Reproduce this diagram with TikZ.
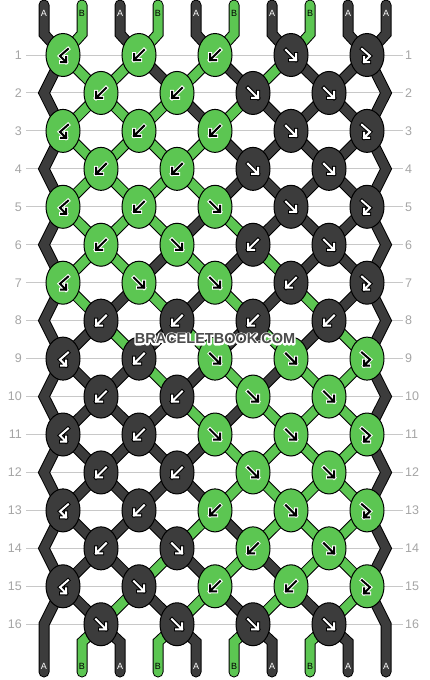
\documentclass[tikz,border=0pt]{standalone}
\usepackage{fontspec}
\setmainfont{Liberation Sans}
\usetikzlibrary{shapes.geometric,backgrounds}

\definecolor{thrG}{RGB}{92,198,82}
\definecolor{thrD}{RGB}{60,60,60}
\definecolor{rowgray}{RGB}{165,165,165}
\definecolor{linegray}{RGB}{200,200,200}
\definecolor{wmgray}{RGB}{75,75,75}

\tikzset{
  knot/.style={ellipse, draw=black, line width=1pt, minimum width=34pt, minimum height=43pt, inner sep=0pt},
  kG/.style={fill=thrG},
  kD/.style={fill=thrD},
  strA/.style={draw=black, line width=1pt, double=thrD, double distance=9pt, line join=miter, line cap=round},
  strB/.style={draw=black, line width=1pt, double=thrG, double distance=9pt, line join=miter, line cap=round},
  aoutG/.style={draw=white, line width=4pt, line cap=rect, line join=miter},
  ainG/.style={draw=black, line width=2pt, line cap=rect, line join=miter},
  aoutD/.style={draw=black, line width=4pt, line cap=rect, line join=miter},
  ainD/.style={draw=white, line width=2pt, line cap=rect, line join=miter},
  rowlab/.style={text=rowgray, inner sep=0pt, font=\fontsize{12.5}{14}\selectfont},
  guide/.style={draw=linegray, line width=1pt},
  endlab/.style={inner sep=0pt, font=\fontsize{9}{10}\selectfont},
  labA/.style={text=white},
  labB/.style={text=black},
  wmark/.style={text=wmgray, inner sep=0pt, font=\bfseries\fontsize{14.5}{16}\selectfont},
}

% arrow glyphs in pixel units, y pointing down
\newcommand{\arrf}{(-5,-5) -- (5,5) (5,-1) -- (5,5) -- (-1,5)}
\newcommand{\arrb}{(5,-5) -- (-5,5) (-5,-1) -- (-5,5) -- (1,5)}
\newcommand{\arrfb}{(-5,-6) -- (3,1) -- (-3,7) (-3,2) -- (-3,7) -- (2,7)}
\newcommand{\arrbf}{(5,-6) -- (-3,1) -- (3,7) (3,2) -- (3,7) -- (-2,7)}
\newcommand{\knotarrow}[3]{% knot, colour, type
  \draw[aout#2, shift={(#1)}] \csname arr#3\endcsname;
  \draw[ain#2, shift={(#1)}] \csname arr#3\endcsname;
}
% white stroked outline under the filled text
\newcommand{\halotext}[1]{\rlap{\special{pdf:literal direct 1 Tr 3 w 1 j 1 1 1 RG}#1\special{pdf:literal direct 0 Tr 0.4 w 0 j 0 0 0 RG}}#1}

\begin{document}
\begin{tikzpicture}[x=1pt,y=-1pt]
  \useasboundingbox (0,0) rectangle (430,680);

  % knots, row by row (colour/type)
  \foreach \rw/\row in {
    1/{G/bf,G/b,G/b,D/f,D/fb},
    2/{G/b,G/b,D/f,D/f},
    3/{G/bf,G/b,G/b,D/f,D/fb},
    4/{G/b,G/b,D/f,D/f},
    5/{G/bf,G/b,G/f,D/f,D/fb},
    6/{G/b,G/f,D/b,D/f},
    7/{G/bf,G/f,G/f,D/b,D/fb},
    8/{D/b,D/b,D/b,D/b},
    9/{D/bf,D/b,G/f,G/f,G/fb},
    10/{D/b,D/b,G/f,G/f},
    11/{D/bf,D/b,G/f,G/f,G/fb},
    12/{D/b,D/b,G/f,G/f},
    13/{D/bf,D/b,G/b,G/f,G/fb},
    14/{D/b,D/f,G/b,G/f},
    15/{D/bf,D/f,G/b,G/b,G/fb},
    16/{D/f,D/f,D/f,D/f}} {
    \pgfmathsetmacro\y{55+37.95*(\rw-1)}
    \pgfmathsetmacro\xo{101-38*mod(\rw,2)}
    \foreach \kc/\kt [count=\ki] in \row {
      \node[knot, k\kc] (k\rw-\ki) at ({\xo+76*(\ki-1)},\y) {};
      \knotarrow{k\rw-\ki}{\kc}{\kt}
    }
    \node[rowlab, anchor=east] (rl\rw) at (22,\y) {\rw};
    \node[rowlab, anchor=west] (rr\rw) at (405,\y) {\rw};
    \coordinate (L\rw) at (44,\y);
    \coordinate (R\rw) at (386,\y);
  }

  % string ends
  \foreach \s [count=\p] in {A,B,A,B,A,B,A,B,A,A} {
    \pgfmathsetmacro\xp{44+38*(\p-1)}
    \coordinate (T\p) at (\xp,5);
    \coordinate (TB\p) at (\xp,34);
    \coordinate (BB\p) at (\xp,642);
    \coordinate (B\p) at (\xp,672);
    \node[endlab, lab\s] (tl\p) at (\xp,13) {\s};
    \node[endlab, lab\s] (bl\p) at (\xp,666) {\s};
  }

  % watermark
  \node[wmark] (wm) at (215,339) {\halotext{BRACELETBOOK.COM}};

  \begin{scope}[on background layer]
    \fill[white] (0,0) rectangle (430,680);
    \foreach \rw in {1,...,16}
      \draw[guide] ([xshift=4pt]rl\rw.east) -- ([xshift=-2pt]rr\rw.west);

    % edge strings
    \draw[strA] (T1) -- (TB1) \foreach \rw [evaluate=\rw as \nx using int(\rw+1)] in {1,3,...,15} { -- (k\rw-1.center) -- (L\nx) } -- (B1);
    \draw[strA] (T10) -- (TB10) \foreach \rw [evaluate=\rw as \nx using int(\rw+1)] in {1,3,...,15} { -- (k\rw-5.center) -- (R\nx) } -- (B10);

    % inner strings, state after each row
    \foreach \rw/\st in {
      0/{A,B,A,B,A,B,A,B,A,A},
      1/{A,B,B,A,B,A,B,A,A,A},
      2/{A,B,B,B,A,B,A,A,A,A},
      3/{A,B,B,B,B,A,A,A,A,A},
      4/{A,B,B,B,B,A,A,A,A,A},
      5/{A,B,B,B,A,B,A,A,A,A},
      6/{A,B,B,A,B,A,B,A,A,A},
      7/{A,B,A,B,A,B,A,B,A,A},
      8/{A,A,B,A,B,A,B,A,B,A},
      9/{A,A,A,B,A,B,A,B,B,A},
      10/{A,A,A,A,B,A,B,B,B,A},
      11/{A,A,A,A,A,B,B,B,B,A},
      12/{A,A,A,A,A,B,B,B,B,A},
      13/{A,A,A,A,B,A,B,B,B,A},
      14/{A,A,A,B,A,B,A,B,B,A},
      15/{A,A,B,A,B,A,B,A,B,A},
      16/{A,B,A,B,A,B,A,B,A,A}} {
      \pgfmathtruncatemacro\nx{\rw+1}
      \foreach \s [count=\p] in \st {
        \ifnum\p>1 \ifnum\p<10
          \pgfmathtruncatemacro\ka{floor((\p+mod(\rw,2))/2)}
          \pgfmathtruncatemacro\kb{floor((\p+mod(\nx,2))/2)}
          \ifnum\rw=0
            \draw[str\s] (T\p) -- (TB\p) -- (k1-\kb.center);
          \else\ifnum\rw=16
            \draw[str\s] (k16-\ka.center) -- (BB\p) -- (B\p);
          \else
            \draw[str\s] (k\rw-\ka.center) -- (k\nx-\kb.center);
          \fi\fi
        \fi\fi
      }
    }
  \end{scope}
\end{tikzpicture}
\end{document}
